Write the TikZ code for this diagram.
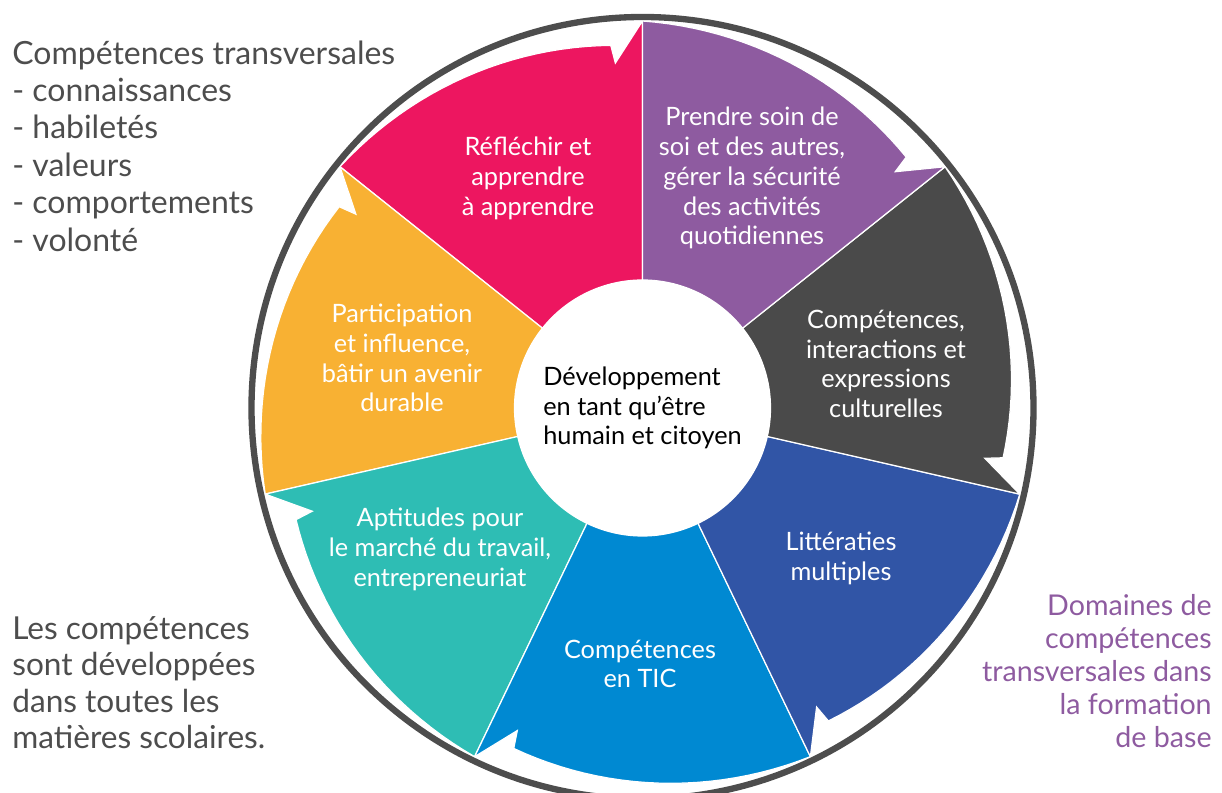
\documentclass[tikz,border=0pt]{standalone}
\usepackage{fontspec}
\setmainfont{Lato}
\usetikzlibrary{positioning}

\definecolor{reflechir}{RGB}{237,22,96}
\definecolor{soin}{RGB}{142,91,160}
\definecolor{culture}{RGB}{74,74,74}
\definecolor{litteratie}{RGB}{49,85,166}
\definecolor{tic}{RGB}{0,137,210}
\definecolor{travail}{RGB}{46,189,180}
\definecolor{participation}{RGB}{248,177,51}
\definecolor{ringgray}{RGB}{77,77,77}

\tikzset{
  seglabel/.style={text=white, align=center, inner sep=0, font=\fontsize{14.4}{17}\selectfont},
  sidenote/.style={text=ringgray, align=left, inner sep=0, font=\fontsize{18.2}{21.3}\selectfont},
}

\begin{document}
\begin{tikzpicture}[x=0.02cm, y=0.02cm]
\useasboundingbox (-642.5,-385) rectangle (579.5,408);
% seven segments, each one an arrow turning clockwise
\foreach \lead/\col in {90/reflechir, 141.43/participation, 192.86/travail, 244.29/tic,
                        295.71/litteratie, 347.14/culture, 38.57/soin} {
  \fill[\col, draw=white, line width=0.7pt]
    (\lead:128) -- (\lead:387) -- ({\lead+4.5}:346) -- ({\lead+5}:364)
    -- plot[domain=0:1, samples=25, variable=\t] ({\lead+5+46.43*\t}:{364+23*\t})
    -- ({\lead+51.43}:128) arc[start angle=\lead+51.43, end angle=\lead, radius=128] -- cycle;
}
\node[circle, fill=white, minimum size=256*0.02cm, inner sep=0, align=left,
      font=\fontsize{14.4}{16.8}\selectfont] (core) at (0,0)
  {Développement\\en tant qu’être\\humain et citoyen};
\draw[ringgray, line width=3.6pt] (0,0) circle (391);

\node[seglabel] (reflechirlbl) at (-114.5,230) {Réfléchir et\\apprendre\\à apprendre};
\node[seglabel] (soinlbl) at (109.5,230) {Prendre soin de\\soi et des autres,\\gérer la sécurité\\des activités\\quotidiennes};
\node[seglabel] (culturelbl) at (243.5,44) {Compétences,\\interactions et\\expressions\\culturelles};
\node[seglabel] (litteratielbl) at (198.5,-150) {Littératies\\multiples};
\node[seglabel] (ticlbl) at (-2.5,-256) {Compétences\\en TIC};
\node[seglabel] (travaillbl) at (-202.5,-141) {Aptitudes pour\\le marché du travail,\\entrepreneuriat};
\node[seglabel] (participationlbl) at (-240.5,50) {Participation\\et influence,\\bâtir un avenir\\durable};

% notes around the wheel
\node[sidenote, anchor=west] (transversal) at (-630.5,262)
  {Compétences transversales\\- connaissances\\- habiletés\\- valeurs\\- comportements\\- volonté};
\node[sidenote, anchor=west, font=\fontsize{18}{20.7}\selectfont] (matieres) at (-630.5,-274.5)
  {Les compétences\\sont développées\\dans toutes les\\matières scolaires.};
\node[sidenote, anchor=east, align=right, text=soin, font=\fontsize{16.3}{18.8}\selectfont] (domaines) at (569.5,-263.5)
  {Domaines de\\compétences\\transversales dans\\la formation\\de base};
\end{tikzpicture}
\end{document}
